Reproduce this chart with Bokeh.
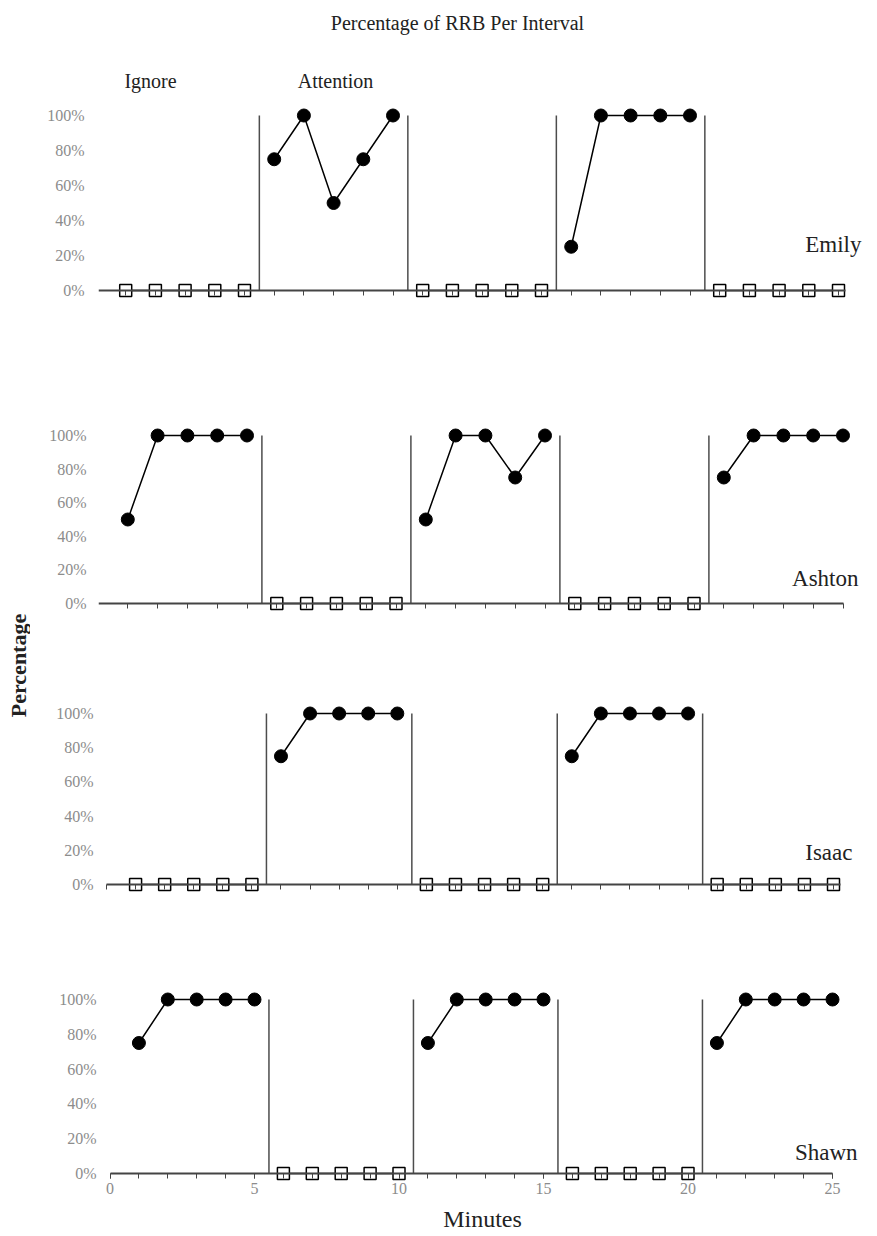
import math
from bokeh.plotting import figure
from bokeh.layouts import row, column
from bokeh.models import (Range1d, Label, FixedTicker, PrintfTickFormatter,
                          SingleIntervalTicker)
from bokeh.embed import file_html
from bokeh.resources import INLINE

# ---------------- data ----------------
minutes = list(range(1, 26))
minute_ticks = list(range(0, 26))
phase_changes = [5.5, 10.5, 15.5, 20.5]
y_ticks = [0, 20, 40, 60, 80, 100]

participants = ["Emily", "Ashton", "Isaac", "Shawn"]

emily_cond = ["Ignore"] * 5 + ["Attention"] * 5 + ["Ignore"] * 5 + ["Attention"] * 5 + ["Ignore"] * 5
emily_pct = [0, 0, 0, 0, 0, 75, 100, 50, 75, 100, 0, 0, 0, 0, 0, 25, 100, 100, 100, 100, 0, 0, 0, 0, 0]

ashton_cond = ["Attention"] * 5 + ["Ignore"] * 5 + ["Attention"] * 5 + ["Ignore"] * 5 + ["Attention"] * 5
ashton_pct = [50, 100, 100, 100, 100, 0, 0, 0, 0, 0, 50, 100, 100, 75, 100, 0, 0, 0, 0, 0, 75, 100, 100, 100, 100]

isaac_cond = ["Ignore"] * 5 + ["Attention"] * 5 + ["Ignore"] * 5 + ["Attention"] * 5 + ["Ignore"] * 5
isaac_pct = [0, 0, 0, 0, 0, 75, 100, 100, 100, 100, 0, 0, 0, 0, 0, 75, 100, 100, 100, 100, 0, 0, 0, 0, 0]

shawn_cond = ["Attention"] * 5 + ["Ignore"] * 5 + ["Attention"] * 5 + ["Ignore"] * 5 + ["Attention"] * 5
shawn_pct = [75, 100, 100, 100, 100, 0, 0, 0, 0, 0, 75, 100, 100, 100, 100, 0, 0, 0, 0, 0, 75, 100, 100, 100, 100]

conds = [emily_cond, ashton_cond, isaac_cond, shawn_cond]
pcts = [emily_pct, ashton_pct, isaac_pct, shawn_pct]

title_text = "Percentage of RRB Per Interval"
phase_names = ["Ignore", "Attention"]
x_title = "Minutes"
y_title = "Percentage"

# ---------------- layout (page pixels) ----------------
FONT = "Liberation Serif"
TOTAL_W = 871
LEFT_W = 30
COL_W = TOTAL_W - LEFT_W
FRAME_LEFT = 98
FRAME_RIGHT = 866
# a: px of x=0, s: px per minute, y0/y100: px of 0%/100%, top/bottom of canvas,
# lr: right edge of y tick labels, nr/ny: name label position, xb: axis end
panels = [
    dict(a=95.5, s=29.7, y0=290, y100=115, top=0, bottom=356, lr=84, nr=861, ny=244, xb=25.25),
    dict(a=97.5, s=29.8, y0=603, y100=435, top=356, bottom=656, lr=86, nr=858, ny=578, xb=25.0),
    dict(a=106.0, s=29.08, y0=884, y100=713, top=656, bottom=938, lr=93, nr=852, ny=852, xb=25.25),
    dict(a=109.5, s=28.9, y0=1173, y100=999, top=938, bottom=1232, lr=96, nr=857, ny=1152, xb=25.0),
]


def segments(cond, pct):
    xs, ys = [], []
    cur_x, cur_y, last = [], [], None
    for m, c, v in zip(minutes, cond, pct):
        if c != last and cur_x:
            xs.append(cur_x)
            ys.append(cur_y)
            cur_x, cur_y = [], []
        cur_x.append(m)
        cur_y.append(v)
        last = c
    if cur_x:
        xs.append(cur_x)
        ys.append(cur_y)
    return xs, ys


figs = []
for i, (name, cond, pct, g) in enumerate(zip(participants, conds, pcts, panels)):
    a, s = g["a"], g["s"]
    sy = (g["y0"] - g["y100"]) / 100.0
    xs0 = (FRAME_LEFT - a) / s
    xe0 = (FRAME_RIGHT - a) / s
    ys0 = -(g["bottom"] - g["y0"]) / sy
    ye0 = (g["y0"] - g["top"]) / sy
    h = g["bottom"] - g["top"]

    p = figure(width=COL_W, height=h, x_range=Range1d(xs0, xe0), y_range=Range1d(ys0, ye0),
               output_backend="svg", toolbar_location=None, title=None,
               min_border_left=FRAME_LEFT - LEFT_W, min_border_right=TOTAL_W - FRAME_RIGHT,
               min_border_top=0, min_border_bottom=0)
    p.grid.visible = False
    p.outline_line_color = None
    p.background_fill_color = "white"

    def px2x(px):
        return (px - a) / s

    def px2y(py):
        return (g["y0"] - py) / sy

    # phase change lines
    p.segment(x0=phase_changes, y0=[0] * 4, x1=phase_changes, y1=[100] * 4,
              line_color="#4d4d4d", line_width=1.5)

    # data lines per phase
    lx, ly = segments(cond, pct)
    p.multi_line(xs=lx, ys=ly, line_color="black", line_width=1.5)

    att_x = [m for m, c in zip(minutes, cond) if c == "Attention"]
    att_y = [v for v, c in zip(pct, cond) if c == "Attention"]
    ign_x = [m for m, c in zip(minutes, cond) if c == "Ignore"]
    ign_y = [v for v, c in zip(pct, cond) if c == "Ignore"]
    p.scatter(att_x, att_y, marker="circle", size=13, fill_color="black", line_color="black")
    p.scatter(ign_x, ign_y, marker="square", size=12, fill_color="white", line_color="black",
              line_width=1.5)

    # x axis at y=0
    xa = p.xaxis[0]
    xa.fixed_location = 0
    if i == 3:
        xa.ticker = SingleIntervalTicker(interval=5, num_minor_ticks=5)
        xa.major_label_text_font = FONT
        xa.major_label_text_color = "#8c8c8c"
        xa.major_label_text_font_size = "16px"
        xa.major_label_standoff = 4
    else:
        xa.ticker = FixedTicker(ticks=[], minor_ticks=minute_ticks)
    xa.bounds = (0, g["xb"])
    xa.axis_line_color = "#444444"
    xa.axis_line_width = 2
    xa.major_tick_line_color = "#444444"
    xa.minor_tick_line_color = "#444444"
    xa.major_tick_in = 0
    xa.major_tick_out = 5
    xa.minor_tick_in = 0
    xa.minor_tick_out = 5

    ya = p.yaxis[0]
    ya.ticker = FixedTicker(ticks=y_ticks)
    ya.formatter = PrintfTickFormatter(format="%d%%")
    ya.axis_line_color = None
    ya.major_tick_line_color = None
    ya.minor_tick_line_color = None
    ya.major_tick_out = 0
    ya.major_tick_in = 0
    ya.major_label_text_font = FONT
    ya.major_label_text_font_size = "16px"
    ya.major_label_text_color = "#8c8c8c"
    ya.major_label_standoff = FRAME_LEFT - g["lr"]

    p.add_layout(Label(x=px2x(g["nr"]), y=px2y(g["ny"]), text=name, text_font=FONT,
                       text_font_size="23px", text_color="#222222",
                       text_align="right", text_baseline="middle"))

    if i == 0:
        p.add_layout(Label(x=px2x(457), y=px2y(22), text=title_text, text_font=FONT,
                           text_font_size="20px", text_color="#222222",
                           text_align="center", text_baseline="middle"))
        p.add_layout(Label(x=px2x(150), y=px2y(80), text=phase_names[0], text_font=FONT,
                           text_font_size="20px", text_color="#222222",
                           text_align="center", text_baseline="middle"))
        p.add_layout(Label(x=px2x(335), y=px2y(80), text=phase_names[1], text_font=FONT,
                           text_font_size="20px", text_color="#222222",
                           text_align="center", text_baseline="middle"))
    if i == 3:
        p.add_layout(Label(x=px2x(482), y=px2y(1218), text=x_title, text_font=FONT,
                           text_font_size="24px", text_color="#222222",
                           text_align="center", text_baseline="middle"))
    figs.append(p)

# left strip with the y title
TOTAL_H = sum(g["bottom"] - g["top"] for g in panels)
lp = figure(width=LEFT_W, height=TOTAL_H, x_range=Range1d(0, LEFT_W), y_range=Range1d(0, TOTAL_H),
            output_backend="svg", toolbar_location=None, title=None,
            x_axis_location=None, y_axis_location=None, min_border=0)
lp.grid.visible = False
lp.outline_line_color = None
lp.add_layout(Label(x=18, y=TOTAL_H - 665, text=y_title, angle=math.pi / 2,
                    text_font=FONT, text_font_size="22px", text_font_style="bold",
                    text_color="#222222", text_align="center", text_baseline="middle"))

layout = row(lp, column(*figs))
open("out.html", "w").write(file_html(layout, INLINE))
